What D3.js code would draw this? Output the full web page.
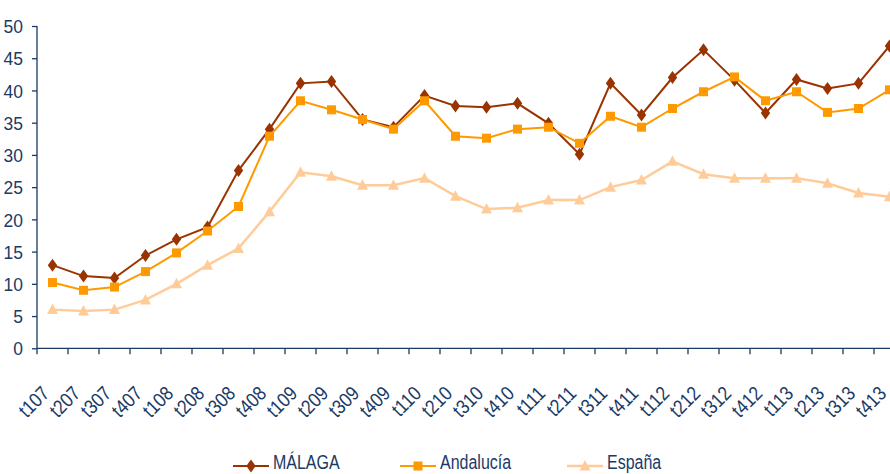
<!DOCTYPE html>
<html><head><meta charset="utf-8">
<script src="https://cdn.jsdelivr.net/npm/d3@7"></script>
<style>
html,body{margin:0;padding:0;background:#fff;}
svg text{font-family:"Liberation Sans Narrow","Liberation Sans",Arial,sans-serif;}
</style></head>
<body><svg id="c" width="890" height="474"></svg>
<script>
const categories = ["t107","t207","t307","t407","t108","t208","t308","t408","t109","t209","t309","t409","t110","t210","t310","t410","t111","t211","t311","t411","t112","t212","t312","t412","t113","t213","t313","t413"];
const malaga    = [12.9,11.2,10.9,14.4,16.9,18.8,27.6,34.0,41.1,41.4,35.5,34.3,39.2,37.6,37.4,38.0,34.9,30.1,41.1,36.2,42.0,46.3,41.6,36.5,41.7,40.3,41.1,46.9];
const andalucia = [10.2,9.0,9.5,11.9,14.8,18.2,22.0,32.9,38.4,37.0,35.5,34.0,38.4,32.9,32.6,34.0,34.3,31.8,36.0,34.3,37.2,39.8,42.1,38.4,39.8,36.6,37.2,40.1];
const espana    = [6.0,5.8,6.0,7.5,10.0,12.9,15.5,21.2,27.3,26.7,25.3,25.3,26.4,23.6,21.6,21.8,23.0,23.0,25.0,26.1,29.0,27.0,26.4,26.4,26.4,25.6,24.1,23.5];
const yTicks = [0,5,10,15,20,25,30,35,40,45,50];
const seriesNames = ["MÁLAGA","Andalucía","España"];

const navy = "#1b3a66";
const svg = d3.select("#c");
const x0 = 37, bw = 31.0;
const x = d3.scaleBand().domain(categories).range([x0, x0 + bw*categories.length]).paddingInner(0).paddingOuter(0);
const y = d3.scaleLinear().domain([0,50]).range([348.3, 26]);

// y axis
const yAxis = svg.append("g").attr("transform",`translate(${x0},0)`)
  .call(d3.axisLeft(y).tickValues(yTicks).tickSize(5).tickPadding(9).tickFormat(d3.format("d")));
yAxis.select(".domain").attr("stroke",navy).attr("stroke-width",1.3).attr("d",`M0,${y(50)}V${y(0)}`);
yAxis.selectAll(".tick line").attr("stroke",navy).attr("stroke-width",1.3);
yAxis.selectAll(".tick text").attr("fill",navy).style("font-size","19px").attr("dy","0.35em")
  .attr("x",0).attr("transform",`translate(-14,0) scale(0.92,1)`);

// x axis
const xAxis = svg.append("g").attr("transform",`translate(0,${y(0)})`);
xAxis.append("line").attr("x1",x0).attr("x2",890).attr("y1",0).attr("y2",0).attr("stroke",navy).attr("stroke-width",1.3);
const tickPos = categories.map((c,i)=>x(c)).concat([x0+bw*categories.length]);
xAxis.selectAll("line.t").data(tickPos).join("line").attr("class","t")
  .attr("x1",d=>d).attr("x2",d=>d).attr("y1",0).attr("y2",6).attr("stroke",navy).attr("stroke-width",1.3);
xAxis.selectAll("text").data(categories).join("text")
  .attr("transform",d=>`translate(${x(d)+x.bandwidth()/2-2},${46.5}) rotate(-45) scale(0.86,1)`)
  .attr("text-anchor","end").attr("fill",navy).style("font-size","20px").text(d=>d);

const cx = (d,i)=>x(categories[i])+x.bandwidth()/2;
const line = d3.line().x((d,i)=>cx(d,i)).y(d=>y(d));

const colors = ["#993300","#FF9900","#FFCC99"];
const data = [malaga, andalucia, espana];

function marker(g, type, color, px, py){
  if(type===0){
    g.append("path").attr("d",`M${px},${py-6.5}L${px+4.7},${py}L${px},${py+6.5}L${px-4.7},${py}Z`).attr("fill",color);
  } else if(type===1){
    g.append("rect").attr("x",px-4.5).attr("y",py-4.5).attr("width",9).attr("height",9).attr("fill",color);
  } else {
    g.append("path").attr("d",`M${px},${py-6}L${px+5.5},${py+4.5}L${px-5.5},${py+4.5}Z`).attr("fill",color);
  }
}

const plot = svg.append("g");
[2,0,1].forEach(k=>{
  const g = plot.append("g");
  g.append("path").datum(data[k]).attr("d",line).attr("fill","none")
   .attr("stroke",colors[k]).attr("stroke-width",k===2?2.5:2);
  data[k].forEach((v,i)=>marker(g,k,colors[k],cx(v,i),y(v)));
});

// legend
const leg = svg.append("g");
const legX = [233,400,567];
seriesNames.forEach((n,k)=>{
  const g = leg.append("g");
  g.append("line").attr("x1",legX[k]).attr("x2",legX[k]+36).attr("y1",466).attr("y2",466)
    .attr("stroke",colors[k]).attr("stroke-width",k===2?2.5:2);
  marker(g,k,colors[k],legX[k]+18,466);
  g.append("text").attr("transform",`translate(${legX[k]+40},469) scale(0.82,1)`)
    .attr("fill",navy).style("font-size","19.5px").text(n);
});
</script></body></html>
